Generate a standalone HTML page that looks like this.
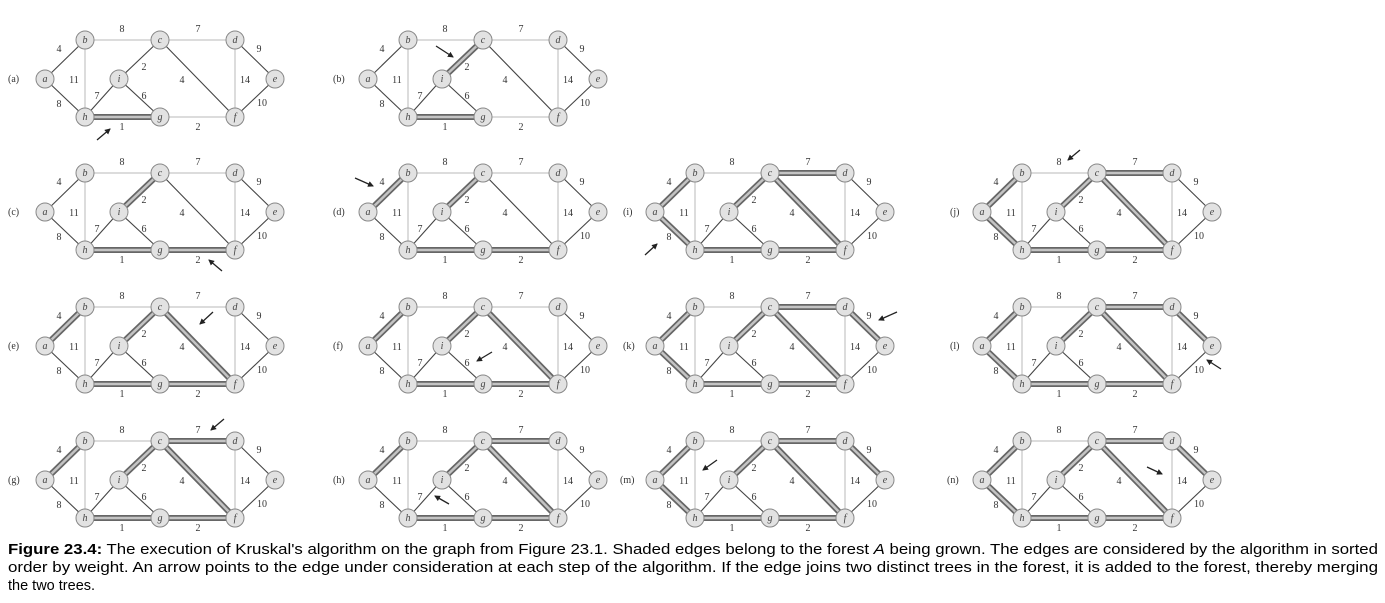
<!DOCTYPE html>
<html><head><meta charset="utf-8"><style>
html,body{margin:0;padding:0;background:#fff;width:1385px;height:603px;overflow:hidden}
svg{display:block}
.l{stroke:#b8b8b8;stroke-width:1}
.e{stroke:#444;stroke-width:1.1}
.s{stroke:#666;stroke-width:6;stroke-linecap:round}
.t{stroke:#c4c4c4;stroke-width:2.5;stroke-linecap:round}
.n{fill:#e2e2e2;stroke:#888;stroke-width:1}
.nl{font-family:"Liberation Serif",serif;font-style:italic;font-size:10px;fill:#444;text-anchor:middle}
.w{font-family:"Liberation Serif",serif;font-size:10px;fill:#333;text-anchor:middle}
.p{font-family:"Liberation Serif",serif;font-size:10px;fill:#333}
.a{stroke:#222;stroke-width:1.3;marker-end:url(#ah)}
.cap{font-family:"Liberation Sans",sans-serif;font-size:14.5px;fill:#000}
</style></head><body>
<svg width="1385" height="603" viewBox="0 0 1385 603" xmlns="http://www.w3.org/2000/svg">
<defs><marker id="ah" markerWidth="6" markerHeight="6" refX="5" refY="3" orient="auto" markerUnits="userSpaceOnUse"><path d="M0,0 L6,3 L0,6 Z" fill="#222"/></marker></defs>

<!-- (a) -->
<g transform="translate(0,0)">
<line class="s" x1="85" y1="117" x2="160" y2="117"/><line class="t" x1="85" y1="117" x2="160" y2="117"/>
<line class="l" x1="85" y1="40" x2="160" y2="40"/><line class="l" x1="160" y1="40" x2="235" y2="40"/><line class="l" x1="85" y1="40" x2="85" y2="117"/><line class="l" x1="235" y1="40" x2="235" y2="117"/><line class="l" x1="160" y1="117" x2="235" y2="117"/>
<line class="e" x1="45" y1="79" x2="85" y2="40"/><line class="e" x1="45" y1="79" x2="85" y2="117"/><line class="e" x1="160" y1="40" x2="119" y2="79"/><line class="e" x1="160" y1="40" x2="235" y2="117"/><line class="e" x1="235" y1="40" x2="275" y2="79"/><line class="e" x1="275" y1="79" x2="235" y2="117"/><line class="e" x1="85" y1="117" x2="119" y2="79"/><line class="e" x1="119" y1="79" x2="160" y2="117"/>
<circle class="n" cx="45" cy="79" r="9"/><circle class="n" cx="85" cy="40" r="9"/><circle class="n" cx="160" cy="40" r="9"/><circle class="n" cx="235" cy="40" r="9"/><circle class="n" cx="275" cy="79" r="9"/><circle class="n" cx="235" cy="117" r="9"/><circle class="n" cx="160" cy="117" r="9"/><circle class="n" cx="85" cy="117" r="9"/><circle class="n" cx="119" cy="79" r="9"/>
<text class="nl" x="45" y="82">a</text><text class="nl" x="85" y="43">b</text><text class="nl" x="160" y="43">c</text><text class="nl" x="235" y="43">d</text><text class="nl" x="275" y="82">e</text><text class="nl" x="235" y="120">f</text><text class="nl" x="160" y="120">g</text><text class="nl" x="85" y="120">h</text><text class="nl" x="119" y="82">i</text>
<text class="w" x="122" y="32">8</text><text class="w" x="198" y="32">7</text><text class="w" x="59" y="52">4</text><text class="w" x="259" y="52">9</text><text class="w" x="74" y="83">11</text><text class="w" x="144" y="70">2</text><text class="w" x="182" y="83">4</text><text class="w" x="245" y="83">14</text><text class="w" x="97" y="99">7</text><text class="w" x="144" y="99">6</text><text class="w" x="59" y="107">8</text><text class="w" x="262" y="106">10</text><text class="w" x="122" y="130">1</text><text class="w" x="198" y="130">2</text>
<text class="p" x="8" y="82">(a)</text>
<line class="a" x1="97" y1="140" x2="110" y2="129"/>
</g>

<!-- (b) -->
<g transform="translate(323,0)">
<line class="s" x1="85" y1="117" x2="160" y2="117"/><line class="t" x1="85" y1="117" x2="160" y2="117"/>
<line class="s" x1="160" y1="40" x2="119" y2="79"/><line class="t" x1="160" y1="40" x2="119" y2="79"/>
<line class="l" x1="85" y1="40" x2="160" y2="40"/><line class="l" x1="160" y1="40" x2="235" y2="40"/><line class="l" x1="85" y1="40" x2="85" y2="117"/><line class="l" x1="235" y1="40" x2="235" y2="117"/><line class="l" x1="160" y1="117" x2="235" y2="117"/>
<line class="e" x1="45" y1="79" x2="85" y2="40"/><line class="e" x1="45" y1="79" x2="85" y2="117"/><line class="e" x1="160" y1="40" x2="235" y2="117"/><line class="e" x1="235" y1="40" x2="275" y2="79"/><line class="e" x1="275" y1="79" x2="235" y2="117"/><line class="e" x1="85" y1="117" x2="119" y2="79"/><line class="e" x1="119" y1="79" x2="160" y2="117"/>
<circle class="n" cx="45" cy="79" r="9"/><circle class="n" cx="85" cy="40" r="9"/><circle class="n" cx="160" cy="40" r="9"/><circle class="n" cx="235" cy="40" r="9"/><circle class="n" cx="275" cy="79" r="9"/><circle class="n" cx="235" cy="117" r="9"/><circle class="n" cx="160" cy="117" r="9"/><circle class="n" cx="85" cy="117" r="9"/><circle class="n" cx="119" cy="79" r="9"/>
<text class="nl" x="45" y="82">a</text><text class="nl" x="85" y="43">b</text><text class="nl" x="160" y="43">c</text><text class="nl" x="235" y="43">d</text><text class="nl" x="275" y="82">e</text><text class="nl" x="235" y="120">f</text><text class="nl" x="160" y="120">g</text><text class="nl" x="85" y="120">h</text><text class="nl" x="119" y="82">i</text>
<text class="w" x="122" y="32">8</text><text class="w" x="198" y="32">7</text><text class="w" x="59" y="52">4</text><text class="w" x="259" y="52">9</text><text class="w" x="74" y="83">11</text><text class="w" x="144" y="70">2</text><text class="w" x="182" y="83">4</text><text class="w" x="245" y="83">14</text><text class="w" x="97" y="99">7</text><text class="w" x="144" y="99">6</text><text class="w" x="59" y="107">8</text><text class="w" x="262" y="106">10</text><text class="w" x="122" y="130">1</text><text class="w" x="198" y="130">2</text>
<text class="p" x="10" y="82">(b)</text>
<line class="a" x1="113" y1="46" x2="130" y2="57"/>
</g>

<!-- (c) -->
<g transform="translate(0,133)">
<line class="s" x1="85" y1="117" x2="160" y2="117"/><line class="t" x1="85" y1="117" x2="160" y2="117"/>
<line class="s" x1="160" y1="40" x2="119" y2="79"/><line class="t" x1="160" y1="40" x2="119" y2="79"/>
<line class="s" x1="160" y1="117" x2="235" y2="117"/><line class="t" x1="160" y1="117" x2="235" y2="117"/>
<line class="l" x1="85" y1="40" x2="160" y2="40"/><line class="l" x1="160" y1="40" x2="235" y2="40"/><line class="l" x1="85" y1="40" x2="85" y2="117"/><line class="l" x1="235" y1="40" x2="235" y2="117"/>
<line class="e" x1="45" y1="79" x2="85" y2="40"/><line class="e" x1="45" y1="79" x2="85" y2="117"/><line class="e" x1="160" y1="40" x2="235" y2="117"/><line class="e" x1="235" y1="40" x2="275" y2="79"/><line class="e" x1="275" y1="79" x2="235" y2="117"/><line class="e" x1="85" y1="117" x2="119" y2="79"/><line class="e" x1="119" y1="79" x2="160" y2="117"/>
<circle class="n" cx="45" cy="79" r="9"/><circle class="n" cx="85" cy="40" r="9"/><circle class="n" cx="160" cy="40" r="9"/><circle class="n" cx="235" cy="40" r="9"/><circle class="n" cx="275" cy="79" r="9"/><circle class="n" cx="235" cy="117" r="9"/><circle class="n" cx="160" cy="117" r="9"/><circle class="n" cx="85" cy="117" r="9"/><circle class="n" cx="119" cy="79" r="9"/>
<text class="nl" x="45" y="82">a</text><text class="nl" x="85" y="43">b</text><text class="nl" x="160" y="43">c</text><text class="nl" x="235" y="43">d</text><text class="nl" x="275" y="82">e</text><text class="nl" x="235" y="120">f</text><text class="nl" x="160" y="120">g</text><text class="nl" x="85" y="120">h</text><text class="nl" x="119" y="82">i</text>
<text class="w" x="122" y="32">8</text><text class="w" x="198" y="32">7</text><text class="w" x="59" y="52">4</text><text class="w" x="259" y="52">9</text><text class="w" x="74" y="83">11</text><text class="w" x="144" y="70">2</text><text class="w" x="182" y="83">4</text><text class="w" x="245" y="83">14</text><text class="w" x="97" y="99">7</text><text class="w" x="144" y="99">6</text><text class="w" x="59" y="107">8</text><text class="w" x="262" y="106">10</text><text class="w" x="122" y="130">1</text><text class="w" x="198" y="130">2</text>
<text class="p" x="8" y="82">(c)</text>
<line class="a" x1="222" y1="138" x2="209" y2="127"/>
</g>

<!-- (d) -->
<g transform="translate(323,133)">
<line class="s" x1="85" y1="117" x2="160" y2="117"/><line class="t" x1="85" y1="117" x2="160" y2="117"/>
<line class="s" x1="160" y1="40" x2="119" y2="79"/><line class="t" x1="160" y1="40" x2="119" y2="79"/>
<line class="s" x1="160" y1="117" x2="235" y2="117"/><line class="t" x1="160" y1="117" x2="235" y2="117"/>
<line class="s" x1="45" y1="79" x2="85" y2="40"/><line class="t" x1="45" y1="79" x2="85" y2="40"/>
<line class="l" x1="85" y1="40" x2="160" y2="40"/><line class="l" x1="160" y1="40" x2="235" y2="40"/><line class="l" x1="85" y1="40" x2="85" y2="117"/><line class="l" x1="235" y1="40" x2="235" y2="117"/>
<line class="e" x1="45" y1="79" x2="85" y2="117"/><line class="e" x1="160" y1="40" x2="235" y2="117"/><line class="e" x1="235" y1="40" x2="275" y2="79"/><line class="e" x1="275" y1="79" x2="235" y2="117"/><line class="e" x1="85" y1="117" x2="119" y2="79"/><line class="e" x1="119" y1="79" x2="160" y2="117"/>
<circle class="n" cx="45" cy="79" r="9"/><circle class="n" cx="85" cy="40" r="9"/><circle class="n" cx="160" cy="40" r="9"/><circle class="n" cx="235" cy="40" r="9"/><circle class="n" cx="275" cy="79" r="9"/><circle class="n" cx="235" cy="117" r="9"/><circle class="n" cx="160" cy="117" r="9"/><circle class="n" cx="85" cy="117" r="9"/><circle class="n" cx="119" cy="79" r="9"/>
<text class="nl" x="45" y="82">a</text><text class="nl" x="85" y="43">b</text><text class="nl" x="160" y="43">c</text><text class="nl" x="235" y="43">d</text><text class="nl" x="275" y="82">e</text><text class="nl" x="235" y="120">f</text><text class="nl" x="160" y="120">g</text><text class="nl" x="85" y="120">h</text><text class="nl" x="119" y="82">i</text>
<text class="w" x="122" y="32">8</text><text class="w" x="198" y="32">7</text><text class="w" x="59" y="52">4</text><text class="w" x="259" y="52">9</text><text class="w" x="74" y="83">11</text><text class="w" x="144" y="70">2</text><text class="w" x="182" y="83">4</text><text class="w" x="245" y="83">14</text><text class="w" x="97" y="99">7</text><text class="w" x="144" y="99">6</text><text class="w" x="59" y="107">8</text><text class="w" x="262" y="106">10</text><text class="w" x="122" y="130">1</text><text class="w" x="198" y="130">2</text>
<text class="p" x="10" y="82">(d)</text>
<line class="a" x1="32" y1="45" x2="50" y2="53"/>
</g>

<!-- (e) -->
<g transform="translate(0,267)">
<line class="s" x1="85" y1="117" x2="160" y2="117"/><line class="t" x1="85" y1="117" x2="160" y2="117"/>
<line class="s" x1="160" y1="40" x2="119" y2="79"/><line class="t" x1="160" y1="40" x2="119" y2="79"/>
<line class="s" x1="160" y1="117" x2="235" y2="117"/><line class="t" x1="160" y1="117" x2="235" y2="117"/>
<line class="s" x1="45" y1="79" x2="85" y2="40"/><line class="t" x1="45" y1="79" x2="85" y2="40"/>
<line class="s" x1="160" y1="40" x2="235" y2="117"/><line class="t" x1="160" y1="40" x2="235" y2="117"/>
<line class="l" x1="85" y1="40" x2="160" y2="40"/><line class="l" x1="160" y1="40" x2="235" y2="40"/><line class="l" x1="85" y1="40" x2="85" y2="117"/><line class="l" x1="235" y1="40" x2="235" y2="117"/>
<line class="e" x1="45" y1="79" x2="85" y2="117"/><line class="e" x1="235" y1="40" x2="275" y2="79"/><line class="e" x1="275" y1="79" x2="235" y2="117"/><line class="e" x1="85" y1="117" x2="119" y2="79"/><line class="e" x1="119" y1="79" x2="160" y2="117"/>
<circle class="n" cx="45" cy="79" r="9"/><circle class="n" cx="85" cy="40" r="9"/><circle class="n" cx="160" cy="40" r="9"/><circle class="n" cx="235" cy="40" r="9"/><circle class="n" cx="275" cy="79" r="9"/><circle class="n" cx="235" cy="117" r="9"/><circle class="n" cx="160" cy="117" r="9"/><circle class="n" cx="85" cy="117" r="9"/><circle class="n" cx="119" cy="79" r="9"/>
<text class="nl" x="45" y="82">a</text><text class="nl" x="85" y="43">b</text><text class="nl" x="160" y="43">c</text><text class="nl" x="235" y="43">d</text><text class="nl" x="275" y="82">e</text><text class="nl" x="235" y="120">f</text><text class="nl" x="160" y="120">g</text><text class="nl" x="85" y="120">h</text><text class="nl" x="119" y="82">i</text>
<text class="w" x="122" y="32">8</text><text class="w" x="198" y="32">7</text><text class="w" x="59" y="52">4</text><text class="w" x="259" y="52">9</text><text class="w" x="74" y="83">11</text><text class="w" x="144" y="70">2</text><text class="w" x="182" y="83">4</text><text class="w" x="245" y="83">14</text><text class="w" x="97" y="99">7</text><text class="w" x="144" y="99">6</text><text class="w" x="59" y="107">8</text><text class="w" x="262" y="106">10</text><text class="w" x="122" y="130">1</text><text class="w" x="198" y="130">2</text>
<text class="p" x="8" y="82">(e)</text>
<line class="a" x1="213" y1="45" x2="200" y2="57"/>
</g>

<!-- (f) -->
<g transform="translate(323,267)">
<line class="s" x1="85" y1="117" x2="160" y2="117"/><line class="t" x1="85" y1="117" x2="160" y2="117"/>
<line class="s" x1="160" y1="40" x2="119" y2="79"/><line class="t" x1="160" y1="40" x2="119" y2="79"/>
<line class="s" x1="160" y1="117" x2="235" y2="117"/><line class="t" x1="160" y1="117" x2="235" y2="117"/>
<line class="s" x1="45" y1="79" x2="85" y2="40"/><line class="t" x1="45" y1="79" x2="85" y2="40"/>
<line class="s" x1="160" y1="40" x2="235" y2="117"/><line class="t" x1="160" y1="40" x2="235" y2="117"/>
<line class="l" x1="85" y1="40" x2="160" y2="40"/><line class="l" x1="160" y1="40" x2="235" y2="40"/><line class="l" x1="85" y1="40" x2="85" y2="117"/><line class="l" x1="235" y1="40" x2="235" y2="117"/>
<line class="e" x1="45" y1="79" x2="85" y2="117"/><line class="e" x1="235" y1="40" x2="275" y2="79"/><line class="e" x1="275" y1="79" x2="235" y2="117"/><line class="e" x1="85" y1="117" x2="119" y2="79"/><line class="e" x1="119" y1="79" x2="160" y2="117"/>
<circle class="n" cx="45" cy="79" r="9"/><circle class="n" cx="85" cy="40" r="9"/><circle class="n" cx="160" cy="40" r="9"/><circle class="n" cx="235" cy="40" r="9"/><circle class="n" cx="275" cy="79" r="9"/><circle class="n" cx="235" cy="117" r="9"/><circle class="n" cx="160" cy="117" r="9"/><circle class="n" cx="85" cy="117" r="9"/><circle class="n" cx="119" cy="79" r="9"/>
<text class="nl" x="45" y="82">a</text><text class="nl" x="85" y="43">b</text><text class="nl" x="160" y="43">c</text><text class="nl" x="235" y="43">d</text><text class="nl" x="275" y="82">e</text><text class="nl" x="235" y="120">f</text><text class="nl" x="160" y="120">g</text><text class="nl" x="85" y="120">h</text><text class="nl" x="119" y="82">i</text>
<text class="w" x="122" y="32">8</text><text class="w" x="198" y="32">7</text><text class="w" x="59" y="52">4</text><text class="w" x="259" y="52">9</text><text class="w" x="74" y="83">11</text><text class="w" x="144" y="70">2</text><text class="w" x="182" y="83">4</text><text class="w" x="245" y="83">14</text><text class="w" x="97" y="99">7</text><text class="w" x="144" y="99">6</text><text class="w" x="59" y="107">8</text><text class="w" x="262" y="106">10</text><text class="w" x="122" y="130">1</text><text class="w" x="198" y="130">2</text>
<text class="p" x="10" y="82">(f)</text>
<line class="a" x1="169" y1="85" x2="154" y2="94"/>
</g>

<!-- (g) -->
<g transform="translate(0,401)">
<line class="s" x1="85" y1="117" x2="160" y2="117"/><line class="t" x1="85" y1="117" x2="160" y2="117"/>
<line class="s" x1="160" y1="40" x2="119" y2="79"/><line class="t" x1="160" y1="40" x2="119" y2="79"/>
<line class="s" x1="160" y1="117" x2="235" y2="117"/><line class="t" x1="160" y1="117" x2="235" y2="117"/>
<line class="s" x1="45" y1="79" x2="85" y2="40"/><line class="t" x1="45" y1="79" x2="85" y2="40"/>
<line class="s" x1="160" y1="40" x2="235" y2="117"/><line class="t" x1="160" y1="40" x2="235" y2="117"/>
<line class="s" x1="160" y1="40" x2="235" y2="40"/><line class="t" x1="160" y1="40" x2="235" y2="40"/>
<line class="l" x1="85" y1="40" x2="160" y2="40"/><line class="l" x1="85" y1="40" x2="85" y2="117"/><line class="l" x1="235" y1="40" x2="235" y2="117"/>
<line class="e" x1="45" y1="79" x2="85" y2="117"/><line class="e" x1="235" y1="40" x2="275" y2="79"/><line class="e" x1="275" y1="79" x2="235" y2="117"/><line class="e" x1="85" y1="117" x2="119" y2="79"/><line class="e" x1="119" y1="79" x2="160" y2="117"/>
<circle class="n" cx="45" cy="79" r="9"/><circle class="n" cx="85" cy="40" r="9"/><circle class="n" cx="160" cy="40" r="9"/><circle class="n" cx="235" cy="40" r="9"/><circle class="n" cx="275" cy="79" r="9"/><circle class="n" cx="235" cy="117" r="9"/><circle class="n" cx="160" cy="117" r="9"/><circle class="n" cx="85" cy="117" r="9"/><circle class="n" cx="119" cy="79" r="9"/>
<text class="nl" x="45" y="82">a</text><text class="nl" x="85" y="43">b</text><text class="nl" x="160" y="43">c</text><text class="nl" x="235" y="43">d</text><text class="nl" x="275" y="82">e</text><text class="nl" x="235" y="120">f</text><text class="nl" x="160" y="120">g</text><text class="nl" x="85" y="120">h</text><text class="nl" x="119" y="82">i</text>
<text class="w" x="122" y="32">8</text><text class="w" x="198" y="32">7</text><text class="w" x="59" y="52">4</text><text class="w" x="259" y="52">9</text><text class="w" x="74" y="83">11</text><text class="w" x="144" y="70">2</text><text class="w" x="182" y="83">4</text><text class="w" x="245" y="83">14</text><text class="w" x="97" y="99">7</text><text class="w" x="144" y="99">6</text><text class="w" x="59" y="107">8</text><text class="w" x="262" y="106">10</text><text class="w" x="122" y="130">1</text><text class="w" x="198" y="130">2</text>
<text class="p" x="8" y="82">(g)</text>
<line class="a" x1="224" y1="18" x2="211" y2="29"/>
</g>

<!-- (h) -->
<g transform="translate(323,401)">
<line class="s" x1="85" y1="117" x2="160" y2="117"/><line class="t" x1="85" y1="117" x2="160" y2="117"/>
<line class="s" x1="160" y1="40" x2="119" y2="79"/><line class="t" x1="160" y1="40" x2="119" y2="79"/>
<line class="s" x1="160" y1="117" x2="235" y2="117"/><line class="t" x1="160" y1="117" x2="235" y2="117"/>
<line class="s" x1="45" y1="79" x2="85" y2="40"/><line class="t" x1="45" y1="79" x2="85" y2="40"/>
<line class="s" x1="160" y1="40" x2="235" y2="117"/><line class="t" x1="160" y1="40" x2="235" y2="117"/>
<line class="s" x1="160" y1="40" x2="235" y2="40"/><line class="t" x1="160" y1="40" x2="235" y2="40"/>
<line class="l" x1="85" y1="40" x2="160" y2="40"/><line class="l" x1="85" y1="40" x2="85" y2="117"/><line class="l" x1="235" y1="40" x2="235" y2="117"/>
<line class="e" x1="45" y1="79" x2="85" y2="117"/><line class="e" x1="235" y1="40" x2="275" y2="79"/><line class="e" x1="275" y1="79" x2="235" y2="117"/><line class="e" x1="85" y1="117" x2="119" y2="79"/><line class="e" x1="119" y1="79" x2="160" y2="117"/>
<circle class="n" cx="45" cy="79" r="9"/><circle class="n" cx="85" cy="40" r="9"/><circle class="n" cx="160" cy="40" r="9"/><circle class="n" cx="235" cy="40" r="9"/><circle class="n" cx="275" cy="79" r="9"/><circle class="n" cx="235" cy="117" r="9"/><circle class="n" cx="160" cy="117" r="9"/><circle class="n" cx="85" cy="117" r="9"/><circle class="n" cx="119" cy="79" r="9"/>
<text class="nl" x="45" y="82">a</text><text class="nl" x="85" y="43">b</text><text class="nl" x="160" y="43">c</text><text class="nl" x="235" y="43">d</text><text class="nl" x="275" y="82">e</text><text class="nl" x="235" y="120">f</text><text class="nl" x="160" y="120">g</text><text class="nl" x="85" y="120">h</text><text class="nl" x="119" y="82">i</text>
<text class="w" x="122" y="32">8</text><text class="w" x="198" y="32">7</text><text class="w" x="59" y="52">4</text><text class="w" x="259" y="52">9</text><text class="w" x="74" y="83">11</text><text class="w" x="144" y="70">2</text><text class="w" x="182" y="83">4</text><text class="w" x="245" y="83">14</text><text class="w" x="97" y="99">7</text><text class="w" x="144" y="99">6</text><text class="w" x="59" y="107">8</text><text class="w" x="262" y="106">10</text><text class="w" x="122" y="130">1</text><text class="w" x="198" y="130">2</text>
<text class="p" x="10" y="82">(h)</text>
<line class="a" x1="126" y1="103" x2="112" y2="95"/>
</g>

<!-- (i) -->
<g transform="translate(610,133)">
<line class="s" x1="85" y1="117" x2="160" y2="117"/><line class="t" x1="85" y1="117" x2="160" y2="117"/>
<line class="s" x1="160" y1="40" x2="119" y2="79"/><line class="t" x1="160" y1="40" x2="119" y2="79"/>
<line class="s" x1="160" y1="117" x2="235" y2="117"/><line class="t" x1="160" y1="117" x2="235" y2="117"/>
<line class="s" x1="45" y1="79" x2="85" y2="40"/><line class="t" x1="45" y1="79" x2="85" y2="40"/>
<line class="s" x1="160" y1="40" x2="235" y2="117"/><line class="t" x1="160" y1="40" x2="235" y2="117"/>
<line class="s" x1="160" y1="40" x2="235" y2="40"/><line class="t" x1="160" y1="40" x2="235" y2="40"/>
<line class="s" x1="45" y1="79" x2="85" y2="117"/><line class="t" x1="45" y1="79" x2="85" y2="117"/>
<line class="l" x1="85" y1="40" x2="160" y2="40"/><line class="l" x1="85" y1="40" x2="85" y2="117"/><line class="l" x1="235" y1="40" x2="235" y2="117"/>
<line class="e" x1="235" y1="40" x2="275" y2="79"/><line class="e" x1="275" y1="79" x2="235" y2="117"/><line class="e" x1="85" y1="117" x2="119" y2="79"/><line class="e" x1="119" y1="79" x2="160" y2="117"/>
<circle class="n" cx="45" cy="79" r="9"/><circle class="n" cx="85" cy="40" r="9"/><circle class="n" cx="160" cy="40" r="9"/><circle class="n" cx="235" cy="40" r="9"/><circle class="n" cx="275" cy="79" r="9"/><circle class="n" cx="235" cy="117" r="9"/><circle class="n" cx="160" cy="117" r="9"/><circle class="n" cx="85" cy="117" r="9"/><circle class="n" cx="119" cy="79" r="9"/>
<text class="nl" x="45" y="82">a</text><text class="nl" x="85" y="43">b</text><text class="nl" x="160" y="43">c</text><text class="nl" x="235" y="43">d</text><text class="nl" x="275" y="82">e</text><text class="nl" x="235" y="120">f</text><text class="nl" x="160" y="120">g</text><text class="nl" x="85" y="120">h</text><text class="nl" x="119" y="82">i</text>
<text class="w" x="122" y="32">8</text><text class="w" x="198" y="32">7</text><text class="w" x="59" y="52">4</text><text class="w" x="259" y="52">9</text><text class="w" x="74" y="83">11</text><text class="w" x="144" y="70">2</text><text class="w" x="182" y="83">4</text><text class="w" x="245" y="83">14</text><text class="w" x="97" y="99">7</text><text class="w" x="144" y="99">6</text><text class="w" x="59" y="107">8</text><text class="w" x="262" y="106">10</text><text class="w" x="122" y="130">1</text><text class="w" x="198" y="130">2</text>
<text class="p" x="13" y="82">(i)</text>
<line class="a" x1="35" y1="122" x2="47" y2="111"/>
</g>

<!-- (j) -->
<g transform="translate(937,133)">
<line class="s" x1="85" y1="117" x2="160" y2="117"/><line class="t" x1="85" y1="117" x2="160" y2="117"/>
<line class="s" x1="160" y1="40" x2="119" y2="79"/><line class="t" x1="160" y1="40" x2="119" y2="79"/>
<line class="s" x1="160" y1="117" x2="235" y2="117"/><line class="t" x1="160" y1="117" x2="235" y2="117"/>
<line class="s" x1="45" y1="79" x2="85" y2="40"/><line class="t" x1="45" y1="79" x2="85" y2="40"/>
<line class="s" x1="160" y1="40" x2="235" y2="117"/><line class="t" x1="160" y1="40" x2="235" y2="117"/>
<line class="s" x1="160" y1="40" x2="235" y2="40"/><line class="t" x1="160" y1="40" x2="235" y2="40"/>
<line class="s" x1="45" y1="79" x2="85" y2="117"/><line class="t" x1="45" y1="79" x2="85" y2="117"/>
<line class="l" x1="85" y1="40" x2="160" y2="40"/><line class="l" x1="85" y1="40" x2="85" y2="117"/><line class="l" x1="235" y1="40" x2="235" y2="117"/>
<line class="e" x1="235" y1="40" x2="275" y2="79"/><line class="e" x1="275" y1="79" x2="235" y2="117"/><line class="e" x1="85" y1="117" x2="119" y2="79"/><line class="e" x1="119" y1="79" x2="160" y2="117"/>
<circle class="n" cx="45" cy="79" r="9"/><circle class="n" cx="85" cy="40" r="9"/><circle class="n" cx="160" cy="40" r="9"/><circle class="n" cx="235" cy="40" r="9"/><circle class="n" cx="275" cy="79" r="9"/><circle class="n" cx="235" cy="117" r="9"/><circle class="n" cx="160" cy="117" r="9"/><circle class="n" cx="85" cy="117" r="9"/><circle class="n" cx="119" cy="79" r="9"/>
<text class="nl" x="45" y="82">a</text><text class="nl" x="85" y="43">b</text><text class="nl" x="160" y="43">c</text><text class="nl" x="235" y="43">d</text><text class="nl" x="275" y="82">e</text><text class="nl" x="235" y="120">f</text><text class="nl" x="160" y="120">g</text><text class="nl" x="85" y="120">h</text><text class="nl" x="119" y="82">i</text>
<text class="w" x="122" y="32">8</text><text class="w" x="198" y="32">7</text><text class="w" x="59" y="52">4</text><text class="w" x="259" y="52">9</text><text class="w" x="74" y="83">11</text><text class="w" x="144" y="70">2</text><text class="w" x="182" y="83">4</text><text class="w" x="245" y="83">14</text><text class="w" x="97" y="99">7</text><text class="w" x="144" y="99">6</text><text class="w" x="59" y="107">8</text><text class="w" x="262" y="106">10</text><text class="w" x="122" y="130">1</text><text class="w" x="198" y="130">2</text>
<text class="p" x="13" y="82">(j)</text>
<line class="a" x1="143" y1="17" x2="131" y2="27"/>
</g>

<!-- (k) -->
<g transform="translate(610,267)">
<line class="s" x1="85" y1="117" x2="160" y2="117"/><line class="t" x1="85" y1="117" x2="160" y2="117"/>
<line class="s" x1="160" y1="40" x2="119" y2="79"/><line class="t" x1="160" y1="40" x2="119" y2="79"/>
<line class="s" x1="160" y1="117" x2="235" y2="117"/><line class="t" x1="160" y1="117" x2="235" y2="117"/>
<line class="s" x1="45" y1="79" x2="85" y2="40"/><line class="t" x1="45" y1="79" x2="85" y2="40"/>
<line class="s" x1="160" y1="40" x2="235" y2="117"/><line class="t" x1="160" y1="40" x2="235" y2="117"/>
<line class="s" x1="160" y1="40" x2="235" y2="40"/><line class="t" x1="160" y1="40" x2="235" y2="40"/>
<line class="s" x1="45" y1="79" x2="85" y2="117"/><line class="t" x1="45" y1="79" x2="85" y2="117"/>
<line class="s" x1="235" y1="40" x2="275" y2="79"/><line class="t" x1="235" y1="40" x2="275" y2="79"/>
<line class="l" x1="85" y1="40" x2="160" y2="40"/><line class="l" x1="85" y1="40" x2="85" y2="117"/><line class="l" x1="235" y1="40" x2="235" y2="117"/>
<line class="e" x1="275" y1="79" x2="235" y2="117"/><line class="e" x1="85" y1="117" x2="119" y2="79"/><line class="e" x1="119" y1="79" x2="160" y2="117"/>
<circle class="n" cx="45" cy="79" r="9"/><circle class="n" cx="85" cy="40" r="9"/><circle class="n" cx="160" cy="40" r="9"/><circle class="n" cx="235" cy="40" r="9"/><circle class="n" cx="275" cy="79" r="9"/><circle class="n" cx="235" cy="117" r="9"/><circle class="n" cx="160" cy="117" r="9"/><circle class="n" cx="85" cy="117" r="9"/><circle class="n" cx="119" cy="79" r="9"/>
<text class="nl" x="45" y="82">a</text><text class="nl" x="85" y="43">b</text><text class="nl" x="160" y="43">c</text><text class="nl" x="235" y="43">d</text><text class="nl" x="275" y="82">e</text><text class="nl" x="235" y="120">f</text><text class="nl" x="160" y="120">g</text><text class="nl" x="85" y="120">h</text><text class="nl" x="119" y="82">i</text>
<text class="w" x="122" y="32">8</text><text class="w" x="198" y="32">7</text><text class="w" x="59" y="52">4</text><text class="w" x="259" y="52">9</text><text class="w" x="74" y="83">11</text><text class="w" x="144" y="70">2</text><text class="w" x="182" y="83">4</text><text class="w" x="245" y="83">14</text><text class="w" x="97" y="99">7</text><text class="w" x="144" y="99">6</text><text class="w" x="59" y="107">8</text><text class="w" x="262" y="106">10</text><text class="w" x="122" y="130">1</text><text class="w" x="198" y="130">2</text>
<text class="p" x="13" y="82">(k)</text>
<line class="a" x1="287" y1="45" x2="269" y2="53"/>
</g>

<!-- (l) -->
<g transform="translate(937,267)">
<line class="s" x1="85" y1="117" x2="160" y2="117"/><line class="t" x1="85" y1="117" x2="160" y2="117"/>
<line class="s" x1="160" y1="40" x2="119" y2="79"/><line class="t" x1="160" y1="40" x2="119" y2="79"/>
<line class="s" x1="160" y1="117" x2="235" y2="117"/><line class="t" x1="160" y1="117" x2="235" y2="117"/>
<line class="s" x1="45" y1="79" x2="85" y2="40"/><line class="t" x1="45" y1="79" x2="85" y2="40"/>
<line class="s" x1="160" y1="40" x2="235" y2="117"/><line class="t" x1="160" y1="40" x2="235" y2="117"/>
<line class="s" x1="160" y1="40" x2="235" y2="40"/><line class="t" x1="160" y1="40" x2="235" y2="40"/>
<line class="s" x1="45" y1="79" x2="85" y2="117"/><line class="t" x1="45" y1="79" x2="85" y2="117"/>
<line class="s" x1="235" y1="40" x2="275" y2="79"/><line class="t" x1="235" y1="40" x2="275" y2="79"/>
<line class="l" x1="85" y1="40" x2="160" y2="40"/><line class="l" x1="85" y1="40" x2="85" y2="117"/><line class="l" x1="235" y1="40" x2="235" y2="117"/>
<line class="e" x1="275" y1="79" x2="235" y2="117"/><line class="e" x1="85" y1="117" x2="119" y2="79"/><line class="e" x1="119" y1="79" x2="160" y2="117"/>
<circle class="n" cx="45" cy="79" r="9"/><circle class="n" cx="85" cy="40" r="9"/><circle class="n" cx="160" cy="40" r="9"/><circle class="n" cx="235" cy="40" r="9"/><circle class="n" cx="275" cy="79" r="9"/><circle class="n" cx="235" cy="117" r="9"/><circle class="n" cx="160" cy="117" r="9"/><circle class="n" cx="85" cy="117" r="9"/><circle class="n" cx="119" cy="79" r="9"/>
<text class="nl" x="45" y="82">a</text><text class="nl" x="85" y="43">b</text><text class="nl" x="160" y="43">c</text><text class="nl" x="235" y="43">d</text><text class="nl" x="275" y="82">e</text><text class="nl" x="235" y="120">f</text><text class="nl" x="160" y="120">g</text><text class="nl" x="85" y="120">h</text><text class="nl" x="119" y="82">i</text>
<text class="w" x="122" y="32">8</text><text class="w" x="198" y="32">7</text><text class="w" x="59" y="52">4</text><text class="w" x="259" y="52">9</text><text class="w" x="74" y="83">11</text><text class="w" x="144" y="70">2</text><text class="w" x="182" y="83">4</text><text class="w" x="245" y="83">14</text><text class="w" x="97" y="99">7</text><text class="w" x="144" y="99">6</text><text class="w" x="59" y="107">8</text><text class="w" x="262" y="106">10</text><text class="w" x="122" y="130">1</text><text class="w" x="198" y="130">2</text>
<text class="p" x="13" y="82">(l)</text>
<line class="a" x1="284" y1="102" x2="270" y2="93"/>
</g>

<!-- (m) -->
<g transform="translate(610,401)">
<line class="s" x1="85" y1="117" x2="160" y2="117"/><line class="t" x1="85" y1="117" x2="160" y2="117"/>
<line class="s" x1="160" y1="40" x2="119" y2="79"/><line class="t" x1="160" y1="40" x2="119" y2="79"/>
<line class="s" x1="160" y1="117" x2="235" y2="117"/><line class="t" x1="160" y1="117" x2="235" y2="117"/>
<line class="s" x1="45" y1="79" x2="85" y2="40"/><line class="t" x1="45" y1="79" x2="85" y2="40"/>
<line class="s" x1="160" y1="40" x2="235" y2="117"/><line class="t" x1="160" y1="40" x2="235" y2="117"/>
<line class="s" x1="160" y1="40" x2="235" y2="40"/><line class="t" x1="160" y1="40" x2="235" y2="40"/>
<line class="s" x1="45" y1="79" x2="85" y2="117"/><line class="t" x1="45" y1="79" x2="85" y2="117"/>
<line class="s" x1="235" y1="40" x2="275" y2="79"/><line class="t" x1="235" y1="40" x2="275" y2="79"/>
<line class="l" x1="85" y1="40" x2="160" y2="40"/><line class="l" x1="85" y1="40" x2="85" y2="117"/><line class="l" x1="235" y1="40" x2="235" y2="117"/>
<line class="e" x1="275" y1="79" x2="235" y2="117"/><line class="e" x1="85" y1="117" x2="119" y2="79"/><line class="e" x1="119" y1="79" x2="160" y2="117"/>
<circle class="n" cx="45" cy="79" r="9"/><circle class="n" cx="85" cy="40" r="9"/><circle class="n" cx="160" cy="40" r="9"/><circle class="n" cx="235" cy="40" r="9"/><circle class="n" cx="275" cy="79" r="9"/><circle class="n" cx="235" cy="117" r="9"/><circle class="n" cx="160" cy="117" r="9"/><circle class="n" cx="85" cy="117" r="9"/><circle class="n" cx="119" cy="79" r="9"/>
<text class="nl" x="45" y="82">a</text><text class="nl" x="85" y="43">b</text><text class="nl" x="160" y="43">c</text><text class="nl" x="235" y="43">d</text><text class="nl" x="275" y="82">e</text><text class="nl" x="235" y="120">f</text><text class="nl" x="160" y="120">g</text><text class="nl" x="85" y="120">h</text><text class="nl" x="119" y="82">i</text>
<text class="w" x="122" y="32">8</text><text class="w" x="198" y="32">7</text><text class="w" x="59" y="52">4</text><text class="w" x="259" y="52">9</text><text class="w" x="74" y="83">11</text><text class="w" x="144" y="70">2</text><text class="w" x="182" y="83">4</text><text class="w" x="245" y="83">14</text><text class="w" x="97" y="99">7</text><text class="w" x="144" y="99">6</text><text class="w" x="59" y="107">8</text><text class="w" x="262" y="106">10</text><text class="w" x="122" y="130">1</text><text class="w" x="198" y="130">2</text>
<text class="p" x="10" y="82">(m)</text>
<line class="a" x1="107" y1="59" x2="93" y2="69"/>
</g>

<!-- (n) -->
<g transform="translate(937,401)">
<line class="s" x1="85" y1="117" x2="160" y2="117"/><line class="t" x1="85" y1="117" x2="160" y2="117"/>
<line class="s" x1="160" y1="40" x2="119" y2="79"/><line class="t" x1="160" y1="40" x2="119" y2="79"/>
<line class="s" x1="160" y1="117" x2="235" y2="117"/><line class="t" x1="160" y1="117" x2="235" y2="117"/>
<line class="s" x1="45" y1="79" x2="85" y2="40"/><line class="t" x1="45" y1="79" x2="85" y2="40"/>
<line class="s" x1="160" y1="40" x2="235" y2="117"/><line class="t" x1="160" y1="40" x2="235" y2="117"/>
<line class="s" x1="160" y1="40" x2="235" y2="40"/><line class="t" x1="160" y1="40" x2="235" y2="40"/>
<line class="s" x1="45" y1="79" x2="85" y2="117"/><line class="t" x1="45" y1="79" x2="85" y2="117"/>
<line class="s" x1="235" y1="40" x2="275" y2="79"/><line class="t" x1="235" y1="40" x2="275" y2="79"/>
<line class="l" x1="85" y1="40" x2="160" y2="40"/><line class="l" x1="85" y1="40" x2="85" y2="117"/><line class="l" x1="235" y1="40" x2="235" y2="117"/>
<line class="e" x1="275" y1="79" x2="235" y2="117"/><line class="e" x1="85" y1="117" x2="119" y2="79"/><line class="e" x1="119" y1="79" x2="160" y2="117"/>
<circle class="n" cx="45" cy="79" r="9"/><circle class="n" cx="85" cy="40" r="9"/><circle class="n" cx="160" cy="40" r="9"/><circle class="n" cx="235" cy="40" r="9"/><circle class="n" cx="275" cy="79" r="9"/><circle class="n" cx="235" cy="117" r="9"/><circle class="n" cx="160" cy="117" r="9"/><circle class="n" cx="85" cy="117" r="9"/><circle class="n" cx="119" cy="79" r="9"/>
<text class="nl" x="45" y="82">a</text><text class="nl" x="85" y="43">b</text><text class="nl" x="160" y="43">c</text><text class="nl" x="235" y="43">d</text><text class="nl" x="275" y="82">e</text><text class="nl" x="235" y="120">f</text><text class="nl" x="160" y="120">g</text><text class="nl" x="85" y="120">h</text><text class="nl" x="119" y="82">i</text>
<text class="w" x="122" y="32">8</text><text class="w" x="198" y="32">7</text><text class="w" x="59" y="52">4</text><text class="w" x="259" y="52">9</text><text class="w" x="74" y="83">11</text><text class="w" x="144" y="70">2</text><text class="w" x="182" y="83">4</text><text class="w" x="245" y="83">14</text><text class="w" x="97" y="99">7</text><text class="w" x="144" y="99">6</text><text class="w" x="59" y="107">8</text><text class="w" x="262" y="106">10</text><text class="w" x="122" y="130">1</text><text class="w" x="198" y="130">2</text>
<text class="p" x="10" y="82">(n)</text>
<line class="a" x1="210" y1="66" x2="225" y2="73"/>
</g>

<!-- caption -->
<text class="cap" x="8" y="554" textLength="1370" lengthAdjust="spacingAndGlyphs"><tspan font-weight="bold">Figure 23.4:</tspan> The execution of Kruskal's algorithm on the graph from Figure 23.1. Shaded edges belong to the forest <tspan font-style="italic">A</tspan> being grown. The edges are considered by the algorithm in sorted</text>
<text class="cap" x="8" y="572" textLength="1370" lengthAdjust="spacingAndGlyphs">order by weight. An arrow points to the edge under consideration at each step of the algorithm. If the edge joins two distinct trees in the forest, it is added to the forest, thereby merging</text>
<text class="cap" x="8" y="590">the two trees.</text>
</svg>
</body></html>
